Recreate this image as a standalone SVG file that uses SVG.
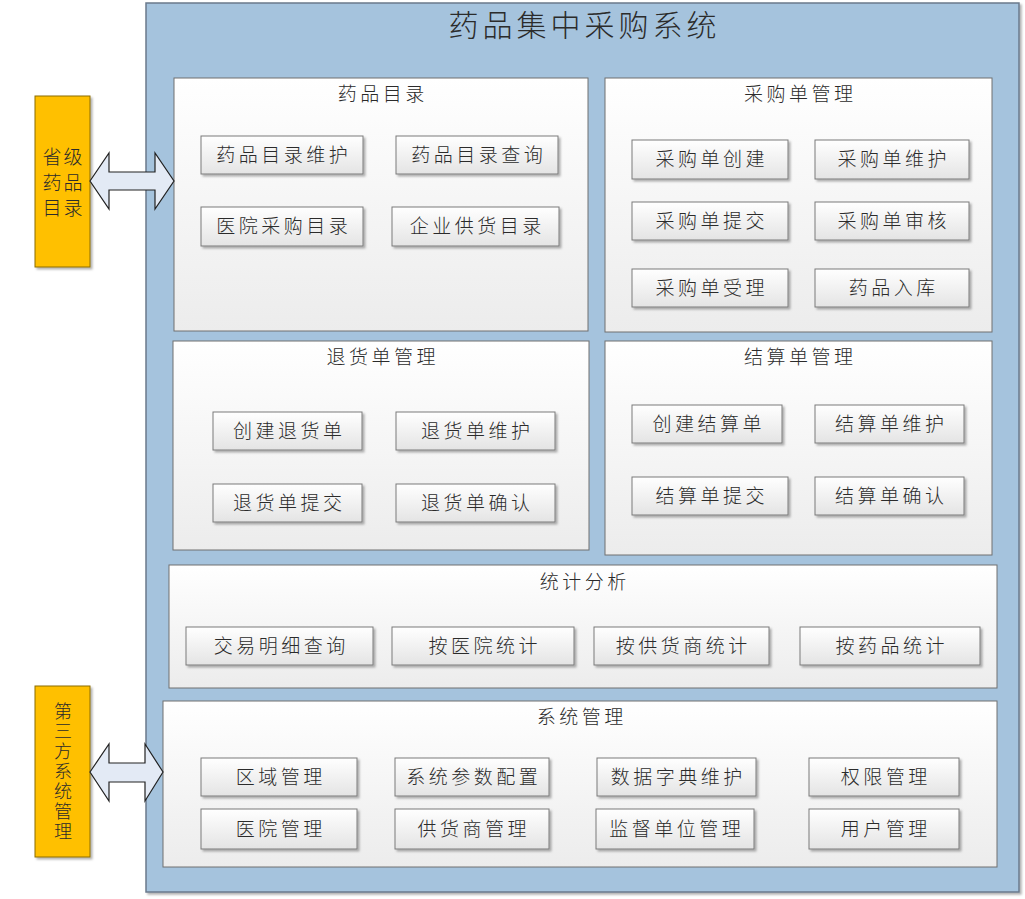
<svg xmlns="http://www.w3.org/2000/svg" width="1025" height="899" viewBox="0 0 1025 899">
<defs>
<linearGradient id="gPanel" x1="0" y1="0" x2="0" y2="1"><stop offset="0" stop-color="#ffffff"/><stop offset="1" stop-color="#ececec"/></linearGradient>
<linearGradient id="gItem" x1="0" y1="0" x2="0" y2="1"><stop offset="0" stop-color="#ffffff"/><stop offset="1" stop-color="#e4e4e4"/></linearGradient>
<filter id="sh" x="-5%" y="-5%" width="115%" height="125%"><feDropShadow dx="2" dy="2" stdDeviation="1" flood-color="#000" flood-opacity="0.3"/></filter>
</defs>
<style>
text{font-family:"Noto Sans CJK SC","Noto Sans",sans-serif;font-weight:300;fill:#2b2b2b;text-anchor:middle}
.frame{fill:#a5c3dd;stroke:#6b7a8c;stroke-width:1.5}
.panel{fill:url(#gPanel);stroke:#707070;stroke-width:1}
.item{fill:url(#gItem);stroke:#7a7a7a;stroke-width:1;filter:url(#sh)}
.ext{fill:#ffc000;stroke:#8c6d00;stroke-width:1;filter:url(#sh)}
.arrow{fill:#e3eaf5;stroke:#222;stroke-width:1.2}
.t{font-size:19px;letter-spacing:3.5px}
.pt{font-size:19px;letter-spacing:3.5px}
.title{font-size:30px;letter-spacing:4px}
.et{font-size:19px;letter-spacing:2px}
.ev{font-size:18px;letter-spacing:2px;writing-mode:vertical-rl}
</style>
<g id="frame">
<rect class="frame" x="146" y="3" width="873" height="889" filter="url(#sh)"/>
<text class="title" x="584.5" y="36">药品集中采购系统</text>
</g>
<g id="ext-province">
<rect class="ext" x="35" y="96" width="55" height="171"/>
<text class="et" x="63.5" y="164">省级</text>
<text class="et" x="63.5" y="190">药品</text>
<text class="et" x="63.5" y="215">目录</text>
</g>
<g id="ext-third">
<rect class="ext" x="35" y="686" width="55" height="171"/>
<text class="ev" x="63" y="772">第三方系统管理</text>
</g>
<g id="p-catalog">
<rect class="panel" x="174" y="78" width="414" height="253"/>
<text class="pt" x="382.8" y="101">药品目录</text>
<rect class="item" x="201" y="136" width="162" height="38"/><text class="t" x="283.8" y="162">药品目录维护</text>
<rect class="item" x="396" y="136" width="162" height="38"/><text class="t" x="478.8" y="162">药品目录查询</text>
<rect class="item" x="201" y="207" width="162" height="39"/><text class="t" x="283.8" y="233">医院采购目录</text>
<rect class="item" x="392" y="207" width="167" height="39"/><text class="t" x="477.3" y="233">企业供货目录</text>
</g>
<g id="p-purchase">
<rect class="panel" x="605" y="78" width="387" height="254"/>
<text class="pt" x="800.3" y="101">采购单管理</text>
<rect class="item" x="632" y="140" width="156" height="39"/><text class="t" x="711.8" y="166">采购单创建</text>
<rect class="item" x="815" y="140" width="154" height="39"/><text class="t" x="893.8" y="166">采购单维护</text>
<rect class="item" x="632" y="202" width="156" height="38"/><text class="t" x="711.8" y="228">采购单提交</text>
<rect class="item" x="815" y="202" width="154" height="38"/><text class="t" x="893.8" y="228">采购单审核</text>
<rect class="item" x="632" y="269" width="156" height="38"/><text class="t" x="711.8" y="295">采购单受理</text>
<rect class="item" x="815" y="269" width="154" height="38"/><text class="t" x="893.8" y="295">药品入库</text>
</g>
<g id="p-return">
<rect class="panel" x="173" y="341" width="416" height="209"/>
<text class="pt" x="382.8" y="364">退货单管理</text>
<rect class="item" x="213" y="412" width="149" height="38"/><text class="t" x="289.3" y="438">创建退货单</text>
<rect class="item" x="396" y="412" width="159" height="38"/><text class="t" x="477.3" y="438">退货单维护</text>
<rect class="item" x="213" y="484" width="149" height="38"/><text class="t" x="289.3" y="510">退货单提交</text>
<rect class="item" x="396" y="484" width="159" height="38"/><text class="t" x="477.3" y="510">退货单确认</text>
</g>
<g id="p-settle">
<rect class="panel" x="605" y="341" width="387" height="214"/>
<text class="pt" x="800.3" y="364">结算单管理</text>
<rect class="item" x="632" y="405" width="150" height="38"/><text class="t" x="708.8" y="431">创建结算单</text>
<rect class="item" x="815" y="405" width="149" height="38"/><text class="t" x="891.3" y="431">结算单维护</text>
<rect class="item" x="632" y="477" width="156" height="38"/><text class="t" x="711.8" y="503">结算单提交</text>
<rect class="item" x="815" y="477" width="149" height="38"/><text class="t" x="891.3" y="503">结算单确认</text>
</g>
<g id="p-stats">
<rect class="panel" x="169" y="565" width="828" height="123"/>
<text class="pt" x="584.8" y="589">统计分析</text>
<rect class="item" x="186" y="627" width="187" height="38"/><text class="t" x="281.3" y="653">交易明细查询</text>
<rect class="item" x="392" y="627" width="182" height="38"/><text class="t" x="484.8" y="653">按医院统计</text>
<rect class="item" x="594" y="627" width="175" height="38"/><text class="t" x="683.3" y="653">按供货商统计</text>
<rect class="item" x="800" y="627" width="180" height="38"/><text class="t" x="891.8" y="653">按药品统计</text>
</g>
<g id="p-system">
<rect class="panel" x="163" y="701" width="834" height="166"/>
<text class="pt" x="581.8" y="724">系统管理</text>
<rect class="item" x="201" y="758" width="156" height="38"/><text class="t" x="280.8" y="784">区域管理</text>
<rect class="item" x="395" y="758" width="154" height="38"/><text class="t" x="473.8" y="784">系统参数配置</text>
<rect class="item" x="597" y="758" width="159" height="38"/><text class="t" x="678.3" y="784">数据字典维护</text>
<rect class="item" x="809" y="758" width="150" height="38"/><text class="t" x="885.8" y="784">权限管理</text>
<rect class="item" x="201" y="809" width="156" height="40"/><text class="t" x="280.8" y="836">医院管理</text>
<rect class="item" x="395" y="809" width="154" height="40"/><text class="t" x="473.8" y="836">供货商管理</text>
<rect class="item" x="596" y="809" width="158" height="40"/><text class="t" x="676.8" y="836">监督单位管理</text>
<rect class="item" x="809" y="809" width="150" height="40"/><text class="t" x="885.8" y="836">用户管理</text>
</g>
<g id="connectors">
<polygon class="arrow" points="90,181 109,153 109,172 155,172 155,153 174,181 155,209 155,190 109,190 109,209"/>
<polygon class="arrow" points="90,772 109,744 109,763 145,763 145,744 163,772 145,801 145,782 109,782 109,801"/>
</g>
</svg>
